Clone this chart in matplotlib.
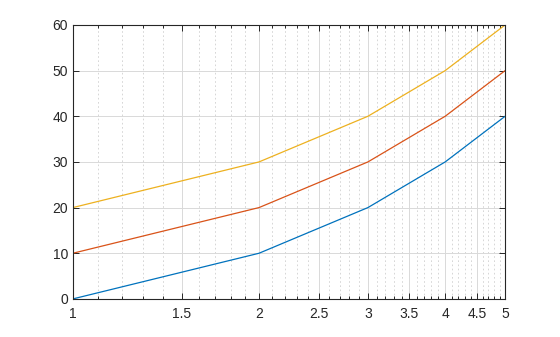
import numpy as np
import matplotlib
matplotlib.use("Agg")
import matplotlib.pyplot as plt
from matplotlib.ticker import FixedLocator, FixedFormatter

x = [1, 2, 3, 4, 5]
y1 = [0, 10, 20, 30, 40]
y2 = [10, 20, 30, 40, 50]
y3 = [20, 30, 40, 50, 60]

major_x = [1, 1.5, 2, 2.5, 3, 3.5, 4, 4.5, 5]
major_lbl = ["1", "1.5", "2", "2.5", "3", "3.5", "4", "4.5", "5"]
minor_x = [v / 10 for v in range(11, 50) if v % 5 != 0]

plt.rcParams['font.family'] = ['Liberation Sans', 'DejaVu Sans']

fig = plt.figure(figsize=(5.6, 3.37), dpi=100)
ax = fig.add_axes([0.130, 0.113, 0.772, 0.813])

ax.plot(x, y1, color=(0, 0.447, 0.741), lw=0.9)
ax.plot(x, y2, color=(0.85, 0.325, 0.098), lw=0.9)
ax.plot(x, y3, color=(0.929, 0.694, 0.125), lw=0.9)

ax.set_xscale('log')
ax.set_xlim(1, 5)
ax.set_ylim(0, 60)
ax.xaxis.set_major_locator(FixedLocator(major_x))
ax.xaxis.set_major_formatter(FixedFormatter(major_lbl))
ax.xaxis.set_minor_locator(FixedLocator(minor_x))
ax.xaxis.set_minor_formatter(FixedFormatter([]))
ax.set_yticks([0, 10, 20, 30, 40, 50, 60])

ax.grid(which='major', color='#d9d9d9', lw=0.7, ls='-')
ax.grid(which='minor', axis='x', color='#d0d0d0', lw=0.6, ls=(0, (2, 3)))
ax.set_axisbelow(True)

ax.tick_params(which='both', direction='in', top=True, right=True, labelsize=10, colors='#262626', width=0.7)
ax.tick_params(which='major', length=4)
ax.tick_params(which='minor', length=2.5)
ax.tick_params(axis='x', pad=6)
for s in ax.spines.values():
    s.set_color('#262626')
    s.set_linewidth(0.8)

fig.savefig("out.png", dpi=100)
